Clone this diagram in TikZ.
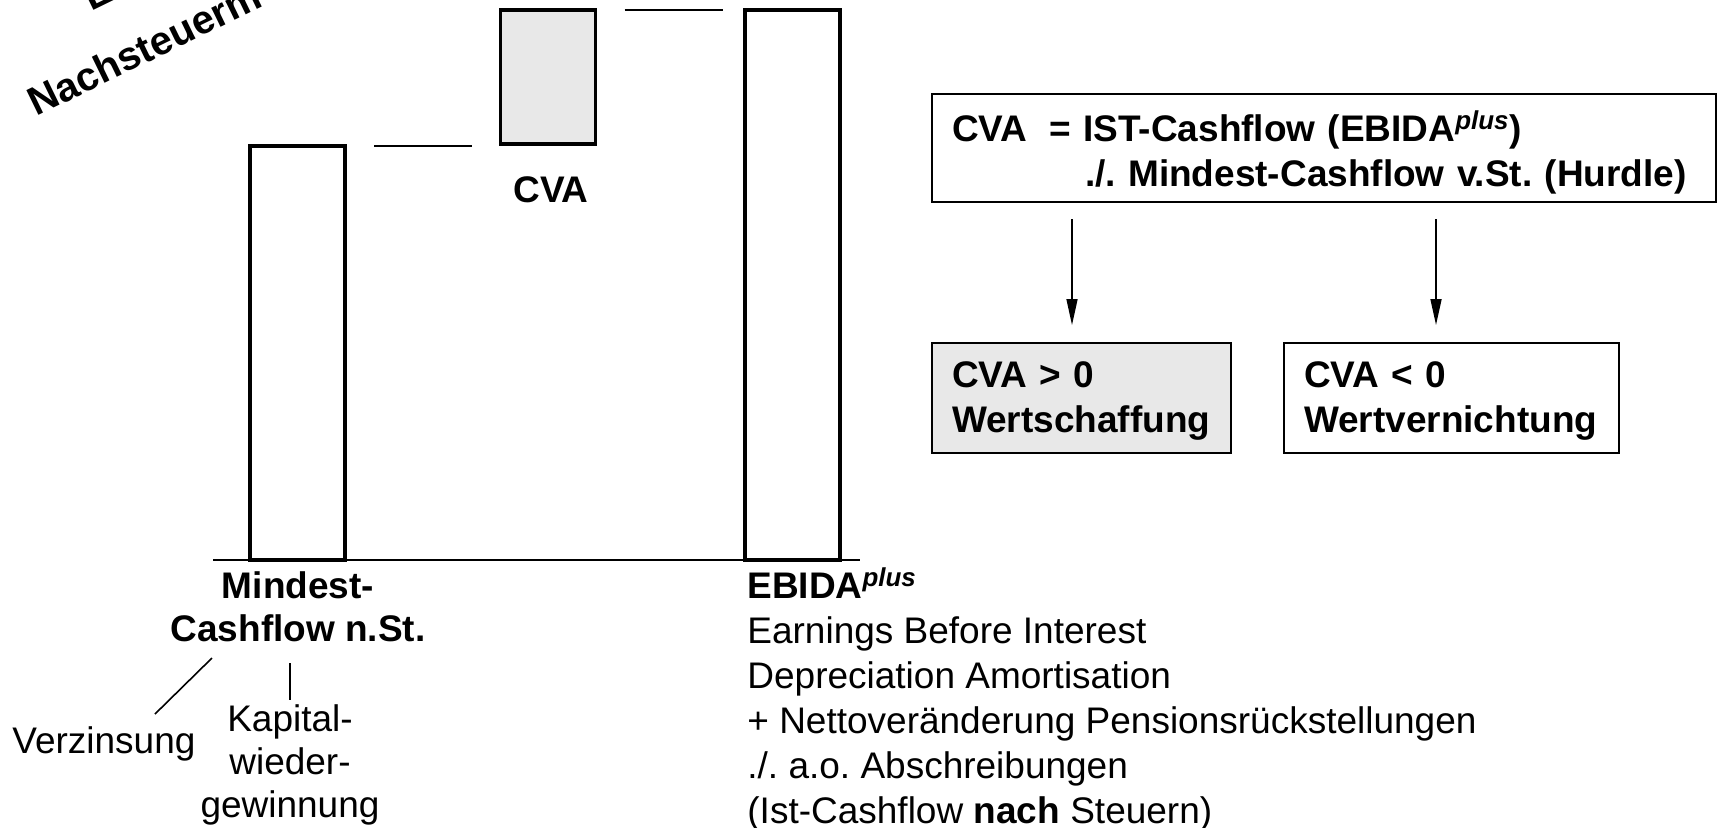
\documentclass[tikz,border=0pt]{standalone}
\usepackage{fontspec}
\setmainfont{Liberation Sans}
\usetikzlibrary{arrows.meta, positioning}
\definecolor{cvagray}{HTML}{E8E8E8}
\frenchspacing

\begin{document}
\begin{tikzpicture}[
        x=0.5pt, y=-0.5pt,
        font=\fontsize{18.5}{22.5}\selectfont,
        fett/.style={font=\fontsize{18.5}{22.5}\selectfont\bfseries},
        titelfont/.style={font=\fontsize{20}{24}\selectfont\bfseries, rotate=26, anchor=base west, inner sep=0pt},
        bar/.style={draw, line width=1.8pt, inner sep=0pt, outer sep=0pt, minimum width=47.5pt, anchor=south},
        res/.style={draw, line width=1pt, inner xsep=10pt, align=left, minimum height=55pt, fett},
        lbl/.style={inner sep=0pt, align=center},
        hurdle/.style={line width=1pt},
        conn/.style={line width=0.8pt},
        arr/.style={-{Triangle[length=13pt, width=5.5pt]}, line width=0.8pt}
    ]
        \useasboundingbox (0,0) rectangle (1718,827);

        % rotated title, cut by the page edge
        \begin{scope}
            \clip (0,0) rectangle (1718,827);
            \node[titelfont] (titel) at (36,117) {Nachsteuerm};
            \node[titelfont] (titelE) at (91,12) {E};
        \end{scope}

        % bars
        \coordinate (axl) at (213,560);
        \coordinate (axr) at (860,560);
        \node[bar, minimum height=207pt] (mcf) at (297.5,560) {};
        \node[bar, minimum height=67pt, fill=cvagray] (cva) at (548,144) {};
        \node[bar, minimum height=275pt] (ebida) at (792.5,560) {};
        \draw[hurdle] (axl) -- (axr);
        \draw[hurdle] ([xshift=14.5pt]mcf.north east) -- ([xshift=-14.5pt]mcf.north east -| cva.west);
        \draw[hurdle] ([xshift=14.5pt]cva.north east) -- ([xshift=-11pt]ebida.north west);

        \node[lbl, fett] (cvalbl) at (551,190) {CVA};

        % labels below the bars
        \node[lbl, anchor=north, font=\fontsize{18.5}{21.5}\selectfont\bfseries] (mind) at (298,571) {Mindest-\\Cashflow n.St.};
        \node[inner sep=0pt, anchor=base west] (verz) at (12,753) {Verzinsung};
        \node[lbl, anchor=north, font=\fontsize{18.5}{21.5}\selectfont] (kap) at (290,704) {Kapital-\\wieder-\\gewinnung};
        \coordinate (vz1) at (212,658);
        \coordinate (vz2) at (155,714);
        \draw[conn] (vz1) -- (vz2);
        \coordinate (kw1) at (290,663);
        \draw[conn] (kw1) -- ([yshift=2pt]kap.north);

        \node[inner sep=0pt, anchor=north west, align=left] (ebtxt) at (747,567)
            {\textbf{EBIDA\textsuperscript{\itshape plus}}\\
             Earnings Before Interest\\
             Depreciation Amortisation\\
             + Nettoveränderung Pensionsrückstellungen\\
             ./. a.o. Abschreibungen\\
             (Ist-Cashflow \textbf{nach} Steuern)};

        % formula and result boxes
        \node[res, text width=372pt, minimum height=54pt] (formel) at (1324,148)
            {\rule{0pt}{20pt}CVA\hspace{11pt}= IST-Cashflow (EBIDA\textsuperscript{\itshape plus})\\
             \hspace*{66.5pt}./. Mindest-Cashflow v.St. (Hurdle)};
        \node[res, text width=129.5pt, fill=cvagray] (gt) at (1081.5,398) {\rule{0pt}{16pt}CVA > 0\\Wertschaffung};
        \node[res, text width=147.5pt, right=25.5pt of gt] (lt) {\rule{0pt}{16pt}CVA < 0\\Wertvernichtung};

        \coordinate (a1) at (1072,0);
        \coordinate (a2) at (1436,0);
        \draw[arr, shorten <=8pt, shorten >=8.5pt] (a1 |- formel.south) -- (a1 |- gt.north);
        \draw[arr, shorten <=8pt, shorten >=8.5pt] (a2 |- formel.south) -- (a2 |- lt.north);
\end{tikzpicture}
\end{document}
